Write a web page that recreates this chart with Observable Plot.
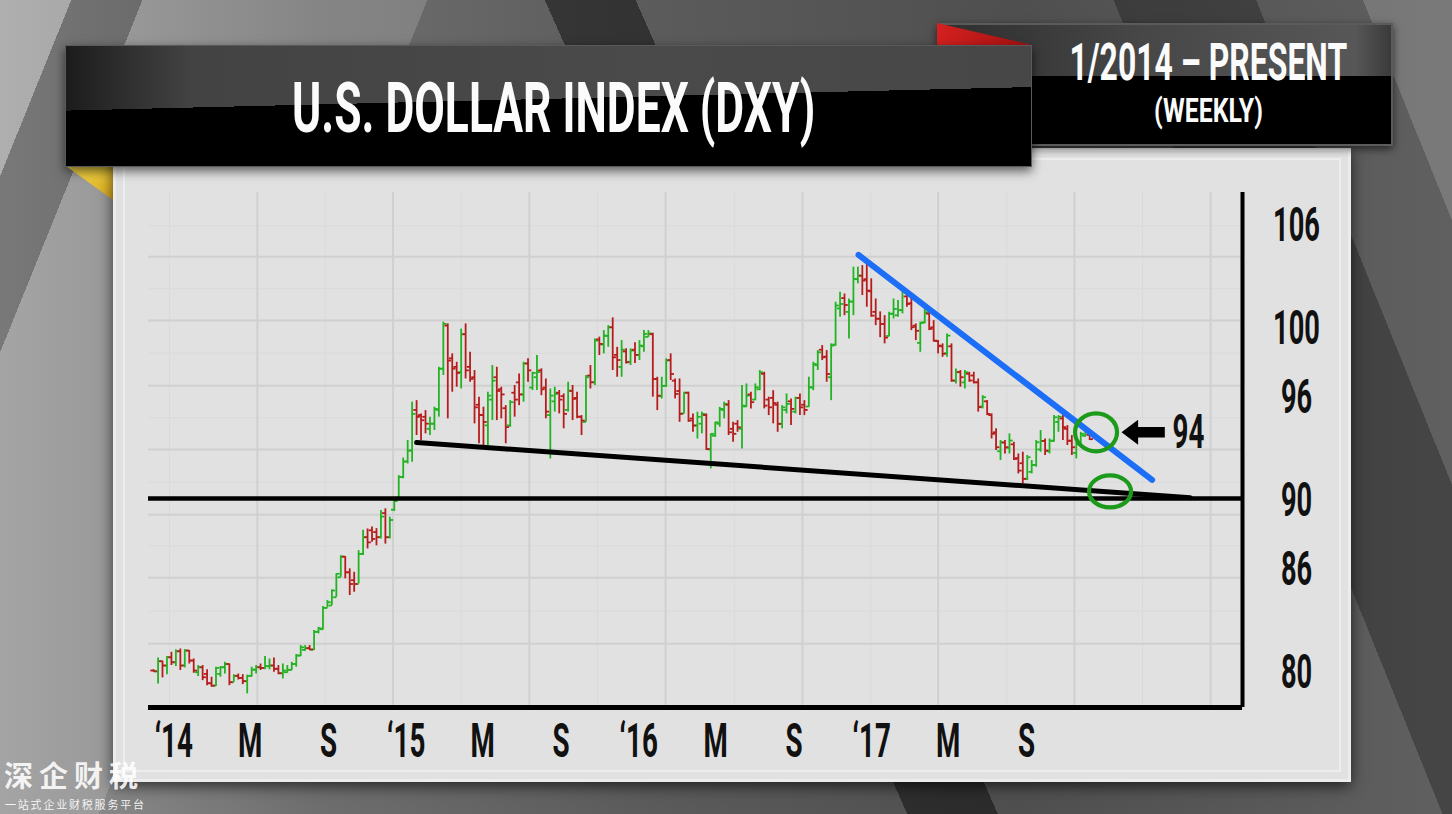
<!DOCTYPE html>
<html>
<head>
<meta charset="utf-8">
<script src="https://cdn.jsdelivr.net/npm/d3@7"></script>
<script src="https://cdn.jsdelivr.net/npm/@observablehq/plot@0.6"></script>
<style>
  html, body { margin:0; padding:0; }
  body { width:1452px; height:814px; overflow:hidden; position:relative;
    background:
      linear-gradient(112deg, rgba(255,255,255,0.26) 0 4%, rgba(0,0,0,0.18) 4% 8%, rgba(255,255,255,0.16) 8% 24%, transparent 24% 100%),
      linear-gradient(248deg, rgba(255,255,255,0.16) 0 5%, transparent 5% 11%, rgba(0,0,0,0.28) 11% 19%, transparent 19%),
      linear-gradient(66deg, transparent 0 50%, rgba(0,0,0,0.45) 50% 55%, transparent 55% 100%),
      linear-gradient(90deg, #939393 0%, #6e6e6e 22%, #5b5b5b 45%, #4f4f4f 70%, #606060 100%);
  }
  #yellow { position:absolute; left:66px; top:166px; width:47px; height:34px;
    background: linear-gradient(160deg,#f8de4c,#d6a51c); clip-path: polygon(0 0,100% 0,100% 100%); z-index:1; }
  #panel { position:absolute; left:113px; top:148px; width:1238px; height:634px; background:#e1e1e1;
    border:3px solid #ececec; box-sizing:border-box; box-shadow:0 4px 14px rgba(0,0,0,.65); z-index:1; }
  #panel .inner { position:absolute; left:7px; top:7px; right:7px; bottom:7px; border:2px solid #ededed; }
  #chart { position:absolute; left:0; top:0; z-index:2; }
  #boxR { position:absolute; left:937px; top:23px; width:456px; height:123px; box-sizing:border-box;
    border:2px solid #5b5b5b;
    background: linear-gradient(180deg, transparent 0 43%, #000 43% 100%),
                linear-gradient(90deg, #2e2e2e, #474747 45%, #575757 92%, #3a3a3a);
    box-shadow:0 3px 8px rgba(0,0,0,.6); z-index:3; }
  #red { position:absolute; left:937px; top:23px; width:95px; height:22px;
    background: linear-gradient(90deg,#d42020,#a51111); clip-path: polygon(0 0,100% 100%,0 100%); z-index:4; }
  #banner { position:absolute; left:65px; top:45px; width:967px; height:122px; box-sizing:border-box;
    border:1px solid #5a5a5a;
    background: linear-gradient(178.6deg, transparent 0 45%, #000 45% 100%),
                linear-gradient(90deg, #1c1c1c 0, #434343 13%, #4a4a4a 60%, #474747 100%);
    box-shadow:0 4px 10px rgba(0,0,0,.6); z-index:5; }
  .txt { position:absolute; display:flex; justify-content:center; align-items:center; color:#fbfbfb;
    font-family: Roboto, 'DejaVu Sans', sans-serif; font-weight:700; white-space:nowrap; z-index:6; }
  .cond { display:inline-block; flex:none; transform-origin:50% 50%; }
  #title { left:70px; width:967px; top:78px; height:60px; line-height:60px; font-size:70px; }
  #range { left:1024px; width:369px; top:33px; height:60px; line-height:60px; font-size:52px; }
  #weekly { left:1024px; width:369px; top:91px; height:40px; line-height:40px; font-size:33px; }
  #wm1 { position:absolute; left:4px; top:757px; font:700 29px 'Noto Sans CJK SC'; letter-spacing:6px;
    line-height:34px; color:rgba(255,255,255,.88); z-index:7; white-space:nowrap; }
  #wm2 { position:absolute; left:5px; top:798px; font:400 11px 'Noto Sans CJK SC'; letter-spacing:1.8px;
    line-height:13px; color:rgba(255,255,255,.9); z-index:7; white-space:nowrap; }
</style>
</head>
<body>
<div id="yellow"></div>
<div id="panel"><div class="inner"></div></div>
<div id="chart"></div>
<div id="boxR"></div>
<div id="red"></div>
<div id="banner"></div>
<div class="txt" id="title"><span class="cond" data-w="523">U.S. DOLLAR INDEX (DXY)</span></div>
<div class="txt" id="range"><span class="cond" data-w="278">1/2014 – PRESENT</span></div>
<div class="txt" id="weekly"><span class="cond" data-w="109">(WEEKLY)</span></div>
<div id="wm1">深企财税</div>
<div id="wm2">一站式企业财税服务平台</div>
<script>
// ---------------- DATA ----------------
const weekStart = "2013-12-16"; // first weekly bar (Mondays, one bar per week)
const openP = [
 80.15,80.11,80.69,80.44,80.92,80.63,81.27,80.44,81.31,80.73,
 80.05,80.34,79.95,79.41,79.27,79.95,80.34,80.53,79.47,79.84,
 79.72,79.53,79.84,80.20,80.34,80.30,80.40,80.44,80.25,79.99,
 80.05,80.19,80.53,81.02,81.35,81.45,81.37,82.40,82.55,83.79,
 83.93,84.41,85.57,86.77,85.86,85.40,85.18,86.93,87.90,88.30,
 88.20,87.90,89.30,87.90,89.50,90.20,91.40,92.30,92.94,95.30,
 95.00,94.90,94.20,94.50,95.30,97.70,100.20,98.30,97.80,97.50,
 99.70,97.80,97.20,95.60,95.00,94.40,95.90,97.20,96.50,95.40,
 94.40,96.30,96.90,96.20,98.00,96.60,97.20,97.60,96.60,95.00,
 95.80,96.30,96.10,95.30,96.40,96.00,94.90,94.60,97.30,96.90,
 99.40,99.10,99.60,100.10,98.50,97.80,98.70,98.10,98.80,98.50,
 99.00,99.55,99.70,97.10,96.10,96.70,98.20,97.00,96.40,95.10,
 96.30,94.80,94.40,94.50,95.00,93.00,93.80,94.50,95.30,95.60,
 94.20,94.50,94.20,95.50,96.20,95.90,96.50,97.40,95.90,96.00,
 95.60,94.50,95.30,95.80,95.20,96.00,95.60,95.50,96.60,97.90,
 98.80,98.40,97.20,99.10,101.20,101.80,101.00,101.60,102.90,103.10,
 102.90,102.20,101.00,100.60,100.30,99.60,100.90,100.80,101.10,101.90,
 101.50,100.20,99.20,100.40,100.90,100.10,99.30,99.00,98.60,99.00,
 97.00,97.50,96.90,97.40,97.30,96.90,95.50,95.80,95.00,94.00,
 92.90,93.40,93.10,93.30,92.50,92.20,91.30,91.70,92.10,93.00,
 93.50,92.90,93.50,94.60,94.80,94.20,93.50,92.80,93.30,93.80,93.85
];
const highP = [
 80.20,80.88,80.69,80.96,81.21,81.35,81.40,81.37,81.31,80.82,
 80.44,80.44,80.19,79.76,80.34,80.38,80.63,80.53,79.91,79.95,
 79.91,79.88,80.34,80.44,80.53,80.96,80.82,80.88,80.44,80.53,
 80.44,80.63,81.08,81.60,81.60,81.60,82.47,82.66,83.87,84.22,
 84.84,85.77,86.83,86.77,86.06,85.86,87.12,88.30,88.38,88.50,
 88.40,89.45,89.55,89.06,90.13,91.48,92.50,93.52,95.75,95.84,
 95.07,95.26,94.88,95.46,97.78,100.40,100.30,98.56,98.07,100.00,
 100.30,98.65,97.59,96.04,95.46,96.33,97.88,97.78,96.62,95.55,
 95.84,96.72,97.39,98.07,98.27,97.49,98.46,97.69,97.10,96.52,
 96.62,96.43,96.23,96.91,96.72,96.33,94.97,97.30,97.88,99.43,
 99.53,99.91,100.20,100.65,98.94,99.33,98.85,98.85,99.20,99.33,
 99.91,99.91,99.76,97.20,97.20,98.27,98.56,97.10,97.10,96.33,
 96.33,95.07,95.17,95.17,95.07,93.91,94.58,95.45,95.75,95.84,
 94.58,94.68,96.72,96.81,96.33,96.81,97.59,97.49,96.04,96.42,
 95.75,95.55,96.23,95.94,96.04,96.23,95.84,97.20,98.07,98.75,
 99.04,98.75,99.14,101.56,102.14,102.04,101.75,103.60,103.60,103.69,
 103.79,102.92,101.75,101.00,100.78,100.98,101.75,101.66,102.24,102.04,
 101.95,100.30,100.40,101.17,100.98,100.49,99.33,99.14,99.72,99.14,
 97.68,97.59,97.59,97.49,97.49,97.10,96.13,95.84,95.07,94.20,
 93.52,93.52,93.91,93.42,92.74,92.84,92.65,92.36,93.52,94.10,
 93.61,93.61,94.97,94.97,94.97,94.39,93.81,93.42,94.00,94.10,93.91
];
const lowP = [
 80.05,79.37,79.72,79.91,80.44,80.38,80.15,80.30,80.53,79.99,
 79.80,79.56,79.27,79.18,79.22,79.76,79.95,79.27,79.47,79.60,
 79.33,78.79,79.76,79.95,80.15,80.19,80.19,80.05,79.91,79.66,
 79.99,80.15,80.34,80.96,81.27,81.31,81.31,82.28,82.51,83.79,
 83.93,84.41,85.57,85.48,84.51,84.70,85.18,86.83,87.22,87.60,
 87.40,87.80,87.50,87.80,89.40,90.10,91.30,92.16,92.26,93.81,
 93.52,93.91,93.81,94.10,94.88,97.30,94.78,96.33,96.62,96.52,
 97.10,96.91,94.49,93.33,93.23,93.23,94.68,94.68,94.78,93.33,
 94.29,94.88,95.55,95.75,96.91,96.43,96.43,96.13,94.78,92.45,
 95.17,95.07,94.20,95.17,94.68,94.78,93.81,94.58,96.52,96.72,
 98.46,98.56,98.94,97.59,97.20,97.20,97.97,97.88,98.00,98.17,
 98.65,99.52,96.04,95.26,95.94,96.62,97.01,95.94,94.58,95.07,
 94.58,94.00,93.61,93.91,92.94,91.87,93.71,94.29,94.78,93.81,
 93.42,94.00,93.03,95.45,95.36,95.84,96.42,95.36,94.97,94.49,
 94.00,94.20,95.07,94.39,95.07,94.97,94.97,95.45,96.42,97.59,
 98.17,96.91,95.84,99.00,100.69,100.78,99.43,100.78,102.63,101.95,
 101.27,100.69,100.20,99.50,99.14,99.55,100.59,100.69,100.88,101.27,
 99.91,99.33,98.65,100.30,99.91,99.24,98.56,98.36,98.36,96.91,
 96.81,96.62,96.52,96.91,96.81,95.17,95.36,94.97,93.61,92.94,
 92.36,92.74,92.74,92.36,91.58,91.00,91.19,91.58,91.97,92.84,
 92.65,92.74,93.42,94.00,93.52,93.23,92.65,92.45,93.13,93.71,93.52
];
const closeP = [
 80.10,80.69,80.44,80.92,80.63,81.27,80.44,81.31,80.73,80.15,
 80.34,79.76,79.41,79.27,80.30,80.34,80.53,79.47,79.84,79.72,
 79.53,79.84,80.20,80.34,80.30,80.40,80.44,80.25,79.99,80.15,
 80.19,80.53,81.02,81.50,81.45,81.37,82.40,82.60,83.79,84.12,
 84.80,85.77,86.77,85.86,85.18,85.18,86.93,87.90,87.60,87.80,
 87.90,89.10,87.90,88.90,90.00,91.40,92.30,92.94,95.07,94.90,
 94.70,94.50,94.50,95.36,97.69,100.30,98.17,97.70,97.45,99.70,
 97.60,97.10,95.45,95.00,94.60,96.13,97.00,96.40,96.20,94.30,
 95.75,95.90,96.20,98.00,97.60,97.45,97.50,96.50,95.20,96.13,
 96.23,95.90,95.07,96.43,95.94,94.91,94.68,97.20,96.91,99.33,
 99.14,99.62,100.11,98.36,98.20,98.80,98.07,98.75,98.50,99.04,
 99.72,99.75,97.10,96.13,96.70,98.17,97.39,96.23,95.07,96.30,
 94.68,94.39,94.90,95.07,93.03,93.91,94.58,95.36,95.65,94.00,
 93.91,94.29,95.55,96.13,95.75,96.62,97.49,95.55,95.45,95.70,
 94.49,95.45,95.65,95.36,96.00,95.45,95.30,96.62,97.97,98.65,
 98.36,97.39,99.04,101.37,101.46,101.40,101.60,102.92,103.11,102.82,
 102.24,100.78,100.60,100.30,99.50,100.88,101.17,101.10,102.14,101.46,
 100.11,99.90,100.35,100.98,100.01,99.33,99.04,98.56,99.62,97.01,
 97.49,97.20,97.49,97.01,96.91,95.46,96.04,95.07,93.91,93.13,
 93.42,93.13,93.52,92.45,91.77,91.29,92.55,92.10,93.42,93.50,
 92.94,93.52,94.87,94.90,94.30,93.52,93.13,93.30,93.91,94.00,93.60
];
const yTicks = [80, 86, 90, 96, 100, 106];
const xTickDates = ["2014-01-01","2014-05-01","2014-09-01","2015-01-01","2015-05-01","2015-09-01",
                    "2016-01-01","2016-05-01","2016-09-01","2017-01-01","2017-05-01","2017-09-01"];
const xTickLabels = ["‘14","M","S","‘15","M","S","‘16","M","S","‘17","M","S"];
const gridMajorY = [81.7, 85.55, 89.2, 93.0, 96.7, 100.5, 104.2];
const gridMinorY = [83.6, 87.4, 91.1, 94.85, 98.6, 102.35, 106.0];
const gridMajorX = ["2014-05-28","2014-12-27","2015-07-29","2016-02-28","2016-09-30","2017-05-01","2017-12-01","2018-07-03"];
const gridMinorX = ["2014-01-10","2014-09-11","2015-04-13","2015-11-13","2016-06-15","2017-01-15","2017-08-17","2018-03-18"];
const levelValue = 90.15;
const supportDates = ["2015-02-02","2018-06-01"], supportValues = [93.4, 90.2];
const trendDates = ["2016-12-27","2018-04-02"], trendValues = [104.31, 91.23];
const circleDates = ["2018-01-04","2018-01-26"], circleValues = [94.0, 90.56];
const calloutDate = "2018-02-13", calloutValue = 94, calloutLabel = "94";
const xDomain = ["2013-12-08","2018-08-22"];
const yDomain = [78, 107.94];

// ---------------- BUILD ----------------
const FONT = "Roboto, 'DejaVu Sans Condensed', 'Liberation Sans', sans-serif";
const UP = "#22b322", DOWN = "#b71c1c";
const start = new Date(weekStart);
const bars = openP.map((o, i) => ({date: d3.utcDay.offset(start, 7 * i), open: o, high: highP[i], low: lowP[i], close: closeP[i]}));
const up = bars.filter(d => d.close >= d.open), down = bars.filter(d => d.close < d.open);
const tickLeft = {draw(ctx) { ctx.moveTo(-3.3, 0); ctx.lineTo(0, 0); }};
const tickRight = {draw(ctx) { ctx.moveTo(0, 0); ctx.lineTo(3.3, 0); }};
function ellipse(rx, ry) { const k = 0.5523; return {draw(ctx) {
  ctx.moveTo(rx, 0);
  ctx.bezierCurveTo(rx, ry * k, rx * k, ry, 0, ry);
  ctx.bezierCurveTo(-rx * k, ry, -rx, ry * k, -rx, 0);
  ctx.bezierCurveTo(-rx, -ry * k, -rx * k, -ry, 0, -ry);
  ctx.bezierCurveTo(rx * k, -ry, rx, -ry * k, rx, 0);
  ctx.closePath(); }}; }
const arrowSym = {draw(ctx) {
  ctx.moveTo(0, 0); ctx.lineTo(16.6, -12.5); ctx.lineTo(16.6, -5.3); ctx.lineTo(43.3, -5.3);
  ctx.lineTo(43.3, 5.3); ctx.lineTo(16.6, 5.3); ctx.lineTo(16.6, 12.5); ctx.closePath(); }};

function ohlc(data, color) { return [
  Plot.ruleX(data, {x: "date", y1: "low", y2: "high", stroke: color, strokeWidth: 1.8}),
  Plot.dot(data, {x: "date", y: "open", symbol: tickLeft, stroke: color, fill: "none", strokeWidth: 1.8}),
  Plot.dot(data, {x: "date", y: "close", symbol: tickRight, stroke: color, fill: "none", strokeWidth: 1.8})
]; }

const xTicks = xTickDates.map((d, i) => ({date: new Date(d), label: xTickLabels[i]}));
const support = supportDates.map((d, i) => ({date: new Date(d), value: supportValues[i]}));
const trend = trendDates.map((d, i) => ({date: new Date(d), value: trendValues[i]}));
const circles = circleDates.map((d, i) => ({date: new Date(d), value: circleValues[i]}));
const callout = [{date: new Date(calloutDate), value: calloutValue, label: calloutLabel}];
const txt = {fontFamily: FONT, fontWeight: 700, fill: "#111", lineAnchor: "middle"};

const chart = Plot.plot({
  width: 1452, height: 814,
  marginLeft: 148, marginRight: 210, marginTop: 192, marginBottom: 107,
  style: {background: "transparent", overflow: "visible"},
  x: {type: "utc", domain: xDomain.map(d => new Date(d)), axis: null},
  y: {domain: yDomain, axis: null},
  marks: [
    Plot.ruleY(gridMinorY, {stroke: "#dadada", strokeWidth: 1}),
    Plot.ruleX(gridMinorX.map(d => new Date(d)), {stroke: "#dadada", strokeWidth: 1}),
    Plot.ruleY(gridMajorY, {stroke: "#d0d0d0", strokeWidth: 2}),
    Plot.ruleX(gridMajorX.map(d => new Date(d)), {stroke: "#d0d0d0", strokeWidth: 2}),
    ohlc(up, UP),
    ohlc(down, DOWN),
    Plot.ruleY([levelValue], {stroke: "#000", strokeWidth: 4.5}),
    Plot.line(support, {x: "date", y: "value", stroke: "#000", strokeWidth: 5, strokeLinecap: "round"}),
    Plot.line(trend, {x: "date", y: "value", stroke: "#1c6ef7", strokeWidth: 6, strokeLinecap: "round"}),
    Plot.dot(circles.slice(0, 1), {x: "date", y: "value", symbol: ellipse(21, 19), stroke: "#1c9a1a", fill: "none", strokeWidth: 4.2}),
    Plot.dot(circles.slice(1), {x: "date", y: "value", symbol: ellipse(21, 16), stroke: "#1c9a1a", fill: "none", strokeWidth: 4.2}),
    Plot.dot(callout, {x: "date", y: "value", symbol: arrowSym, fill: "#000", stroke: "none"}),
    Plot.ruleY([yDomain[0]], {stroke: "#000", strokeWidth: 5}),
    Plot.ruleX([new Date(xDomain[1])], {stroke: "#000", strokeWidth: 4}),
    Plot.text(yTicks, {y: d => d, text: d => String(d), frameAnchor: "right", dx: 54, textAnchor: "middle", fontSize: 48, ...txt}),
    Plot.text(xTicks, {x: "date", text: "label", frameAnchor: "bottom", dy: 34, dx: 10, textAnchor: "middle", fontSize: 49, ...txt}),
    Plot.text(callout, {x: "date", y: "value", text: "label", dx: 51, textAnchor: "start", fontSize: 49, ...txt})
  ]
});
document.getElementById("chart").appendChild(chart);

// condense SVG label text to a narrow display face width
(function condense() {
  const ns = "http://www.w3.org/2000/svg";
  const t = document.createElementNS(ns, "text");
  t.setAttribute("font-family", FONT); t.setAttribute("font-weight", "700"); t.setAttribute("font-size", "48");
  t.textContent = "0123456789";
  chart.appendChild(t);
  const digit = t.getComputedTextLength() / 10;
  t.remove();
  const f = (0.325 * 48) / digit;
  chart.querySelectorAll('g[aria-label="text"] text').forEach(el => {
    el.setAttribute("transform", (el.getAttribute("transform") || "") + ` scale(${f},1)`);
  });
})();
document.querySelectorAll(".cond").forEach(el => {
  el.style.transform = `scaleX(${(+el.dataset.w) / el.offsetWidth})`;
});
</script>
</body>
</html>
